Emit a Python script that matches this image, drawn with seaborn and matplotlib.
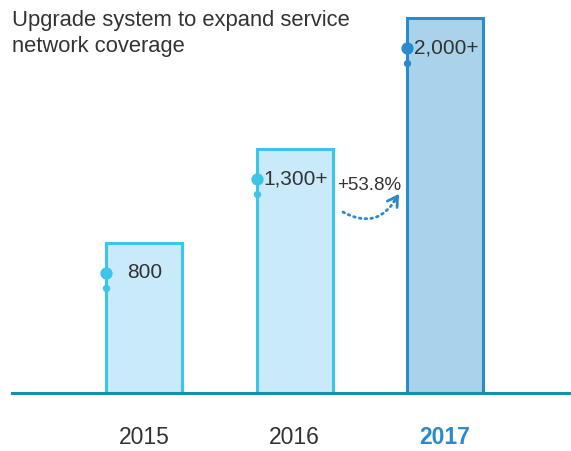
import matplotlib
matplotlib.use("Agg")
import matplotlib.pyplot as plt
import seaborn as sns
import pandas as pd

years = ["2015", "2016", "2017"]
values = [800, 1300, 2000]
labels = ["800", "1,300+", "2,000+"]
growth_label = "+53.8%"
title = "Upgrade system to expand service\nnetwork coverage"

light_fill = "#c9eaf9"
light_edge = "#3cc4ea"
dark_fill = "#a9d3ea"
dark_edge = "#2b8acb"
text_col = "#333333"
base_col = "#1b8db0"

sns.set_theme(style="white")
plt.rcParams["font.family"] = ["Liberation Sans", "DejaVu Sans"]

df = pd.DataFrame({"year": years, "value": values})

fig = plt.figure(figsize=(5.71, 4.51), dpi=100)
ax = fig.add_axes([12 / 571, 58 / 451, 559 / 571, 393 / 451])

sns.barplot(data=df, x="year", y="value", ax=ax, width=0.505,
            palette=[light_fill, light_fill, dark_fill], hue="year",
            legend=False, linewidth=2.2, saturation=1)
edges = [light_edge, light_edge, dark_edge]
for p, ec in zip(ax.patches, edges):
    p.set_edgecolor(ec)

ax.set_xlim(-0.877, 2.837)
ax.set_ylim(0, 2096)
for s in ["top", "right", "left"]:
    ax.spines[s].set_visible(False)
ax.spines["bottom"].set_color(base_col)
ax.spines["bottom"].set_linewidth(2.2)
ax.set_yticks([])
ax.set_xlabel("")
ax.set_ylabel("")
ax.tick_params(axis="x", length=0, pad=24, labelsize=16.5, labelcolor=text_col)
tl = ax.get_xticklabels()
tl[2].set_color(dark_edge)
tl[2].set_fontweight("bold")

half = 0.505 / 2
for i, (v, lab, ec) in enumerate(zip(values, labels, edges)):
    xl = i - half
    ax.scatter([xl], [v - 160], s=78, color=ec, zorder=5, clip_on=False,
               linewidths=0)
    ax.scatter([xl], [v - 240], s=28, color=ec, zorder=5, clip_on=False,
               linewidths=0)
    dx = 0.14 if i == 0 else 0.045
    ax.text(xl + dx, v - 160, lab, fontsize=15, color=text_col,
            va="center", ha="left")

ax.text(1.493, values[1] - 195, growth_label, fontsize=13.5, color=text_col,
        va="center", ha="center")
# dotted curve
ax.annotate("", xy=(1.685, 1050), xytext=(1.322, 965),
            arrowprops=dict(arrowstyle="-", color=dark_edge, lw=2,
                            linestyle=(0, (0.6, 1.5)),
                            connectionstyle="arc3,rad=0.5",
                            shrinkA=0, shrinkB=0))
# solid arrow head
ax.annotate("", xy=(1.694, 1062), xytext=(1.660, 1020),
            arrowprops=dict(arrowstyle="->,head_length=0.5,head_width=0.3",
                            color=dark_edge, lw=2,
                            shrinkA=0, shrinkB=0, mutation_scale=14))

fig.text(12 / 571, 1 - 10 / 451, title, fontsize=15.8, color=text_col,
         va="top", ha="left", linespacing=1.3)

fig.savefig("out.png", dpi=100)
